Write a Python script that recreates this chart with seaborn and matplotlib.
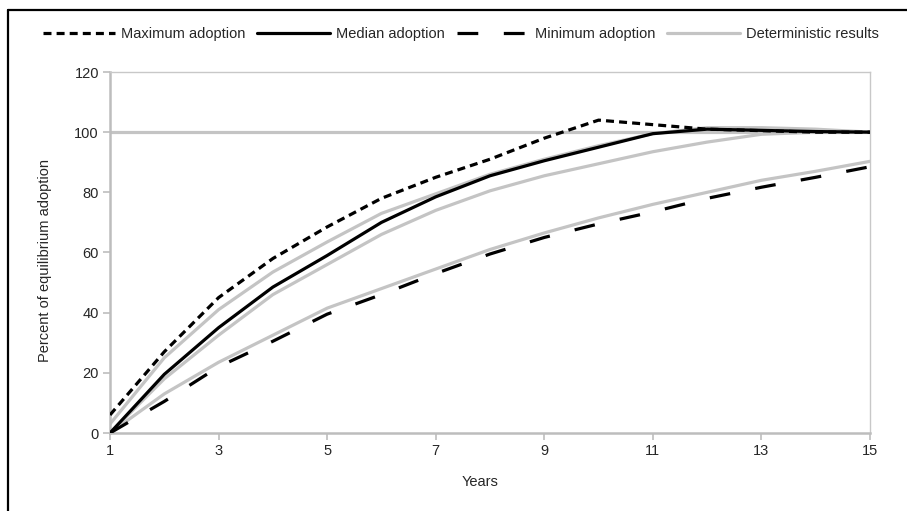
import matplotlib
matplotlib.use("Agg")
import matplotlib.pyplot as plt
from matplotlib.lines import Line2D
import seaborn as sns
import pandas as pd

years = list(range(1, 16))
maximum = [6, 27, 45, 58, 68.5, 78, 85, 91, 98, 104, 102.5, 101, 100.5, 100, 100]
median = [0, 19.5, 35, 48.5, 59, 70, 78.5, 85.5, 90.5, 95, 99.5, 101, 100.6, 100.2, 100]
minimum = [0, 10.5, 22, 30.5, 39.5, 46, 53, 59.5, 65, 69.5, 73.5, 78, 81.7, 85, 88.5]
det_high = [3, 25, 41, 53.5, 63.5, 73, 79.5, 86, 91, 95.5, 99.5, 101.5, 101.5, 101, 100]
det_mid = [0, 18, 32.5, 46, 56, 66, 74, 80.5, 85.5, 89.5, 93.5, 96.7, 99.3, 100, 100]
det_low = [0, 13, 23.5, 32.5, 41.5, 48, 54.5, 61, 66.5, 71.5, 76, 80, 84, 87, 90.3]
det_flat = [100] * 15

legend_labels = ["Maximum adoption", "Median adoption", "Minimum adoption", "Deterministic results"]
x_label = "Years"
y_label = "Percent of equilibrium adoption"

sns.set_theme(style="white")
plt.rcParams["font.family"] = ["Liberation Sans", "DejaVu Sans"]

fig = plt.figure(figsize=(9.07, 5.11), dpi=100)
ax = fig.add_axes([110 / 907, 1 - 433 / 511, 760 / 907, (433 - 72) / 511])

gray = "#c4c4c4"
lw = 2.3

for det in [det_flat, det_low, det_mid, det_high]:
    df = pd.DataFrame({"x": years, "y": det})
    sns.lineplot(data=df, x="x", y="y", ax=ax, color=gray, linewidth=lw, zorder=2)

df = pd.DataFrame({"x": years, "y": maximum})
sns.lineplot(data=df, x="x", y="y", ax=ax, color="black", linewidth=lw,
             zorder=3).lines[-1].set_dashes([2.5, 1.6])
df = pd.DataFrame({"x": years, "y": minimum})
sns.lineplot(data=df, x="x", y="y", ax=ax, color="black", linewidth=lw,
             zorder=3).lines[-1].set_dashes([6.5, 8])
df = pd.DataFrame({"x": years, "y": median})
sns.lineplot(data=df, x="x", y="y", ax=ax, color="black", linewidth=lw, zorder=4)

ax.set_xlim(1, 15)
ax.set_ylim(0, 120)
ax.set_xticks(range(1, 16, 2))
ax.set_yticks(range(0, 121, 20))
ax.set_xlabel(x_label, fontsize=10.5)
ax.set_ylabel(y_label, fontsize=10.5)
ax.xaxis.set_label_coords((480 - 110) / 760, -0.115)
ax.yaxis.set_label_coords((52 - 110) / 760, (433 - 260) / 361)
ax.tick_params(axis="both", which="both", direction="out", length=5, width=1.2,
               color="#bdbdbd", labelsize=10.5, pad=3, bottom=True, left=True)
for side in ["left", "bottom"]:
    ax.spines[side].set_color("#bdbdbd")
    ax.spines[side].set_linewidth(1.8)
for side in ["top", "right"]:
    ax.spines[side].set_color("#c8c8c8")
    ax.spines[side].set_linewidth(1.0)
ax.grid(False)

handles = [
    Line2D([], [], color="black", linewidth=lw, dashes=[2.5, 1.6]),
    Line2D([], [], color="black", linewidth=lw),
    Line2D([], [], color="black", linewidth=lw, dashes=[6.5, 8]),
    Line2D([], [], color=gray, linewidth=lw),
]
fig.legend(handles, legend_labels, loc="center", bbox_to_anchor=(0.508, 1 - 34 / 511),
           ncol=4, frameon=False, fontsize=10.5, handlelength=5.0, handletextpad=0.4,
           columnspacing=0.8)

fig.add_artist(Line2D([8 / 907, 1.01], [1 - 10 / 511, 1 - 10 / 511], color="black",
                      linewidth=1.6, transform=fig.transFigure))
fig.add_artist(Line2D([8 / 907, 8 / 907], [-0.01, 1 - 10 / 511], color="black",
                      linewidth=1.6, transform=fig.transFigure))

fig.savefig("out.png", dpi=100)
